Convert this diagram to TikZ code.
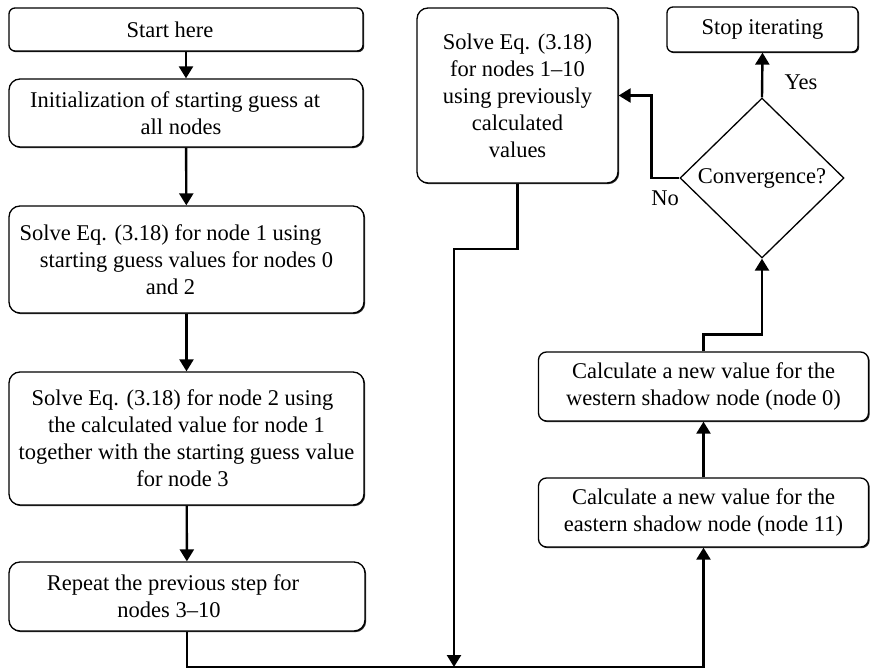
\documentclass[tikz,border=0pt]{standalone}
\usepackage{fontspec}
\setmainfont{Liberation Serif}
\usetikzlibrary{arrows.meta,shapes.geometric,shadows}
\begin{document}
\begin{tikzpicture}[x=1pt,y=-1pt,
  every node/.style={font=\fontsize{22.5}{27}\selectfont},
  box/.style={draw=black,line width=1.3pt,fill=white,rounded corners=11pt,align=center,inner sep=0pt,
    drop shadow={shadow xshift=1.2pt,shadow yshift=-1.2pt,fill=black,opacity=0.85}},
  smallbox/.style={box,rounded corners=6pt},
  decision/.style={draw=black,line width=1.3pt,fill=white,diamond,aspect=1,inner sep=0pt,align=center},
  arr/.style={line width=2.4pt,-{Triangle[width=14pt,length=12pt]}},
  lbl/.style={inner sep=0pt}]
\useasboundingbox (0,0) rectangle (871,669);
% left column
\node[smallbox,minimum width=354pt,minimum height=43pt] (start) at (186,29.5) {Start here\hspace*{32pt}};
\node[box,minimum width=354pt,minimum height=68pt] (init) at (186,113)
  {Initialization of starting guess at\hspace*{22pt}\\all nodes\hspace*{10pt}};
\node[box,minimum width=355pt,minimum height=107pt] (solve1) at (186.5,259.5)
  {Solve Eq. (3.18) for node 1 using\hspace*{32pt}\\starting guess values for nodes 0\hspace*{32pt}\\and 2\hspace*{32pt}};
\node[box,minimum width=355pt,minimum height=133pt] (solve2) at (186.5,438.5)
  {Solve Eq. (3.18) for node 2 using\hspace*{8pt}\\the calculated value for node 1\hspace*{8pt}\\together with the starting guess value\\for node 3\hspace*{8pt}};
\node[box,minimum width=356pt,minimum height=69pt] (repeat) at (187,596.5)
  {Repeat the previous step for\hspace*{28pt}\\nodes 3\textendash10\hspace*{36pt}};
% right part
\node[box,minimum width=201pt,minimum height=175pt] (solveall) at (517.5,95.5)
  {Solve Eq. (3.18)\\for nodes 1\textendash10\\using previously\\calculated\\values};
\node[smallbox,minimum width=191pt,minimum height=45pt] (stop) at (762.5,29.5) {Stop iterating};
\node[decision,minimum width=164pt,minimum height=160pt] (conv) at (762,178) {Convergence?};
\node[smallbox,rounded corners=8pt,minimum width=330pt,minimum height=69pt] (western) at (703.5,386.5)
  {Calculate a new value for the\\western shadow node (node 0)};
\node[smallbox,rounded corners=8pt,minimum width=330pt,minimum height=69pt] (eastern) at (703.5,512.5)
  {Calculate a new value for the\\eastern shadow node (node 11)};
% labels
\node[lbl] (yes) at (801,82) {Yes};
\node[lbl] (no) at (665,198) {No};
% coordinates
\coordinate (kink) at (454,249);
\coordinate (bot) at (454,667);
% connectors
\draw[arr] (start) -- (init);
\draw[arr] (init) -- (solve1);
\draw[arr] (solve1) -- (solve2);
\draw[arr] (solve2) -- (repeat);
\draw[arr] (repeat.south) |- (bot) -| (eastern.south);
\draw[arr] (solveall.south) |- (kink) -- (bot);
\draw[arr] (eastern) -- (western);
\draw[arr] (western.north) -- ++(0,-17) -| (conv.south);
\draw[arr] (conv.north) -- (stop.south);
\draw[arr] (conv.west) -- ++(-28,0) |- (solveall.east);
\end{tikzpicture}
\end{document}
